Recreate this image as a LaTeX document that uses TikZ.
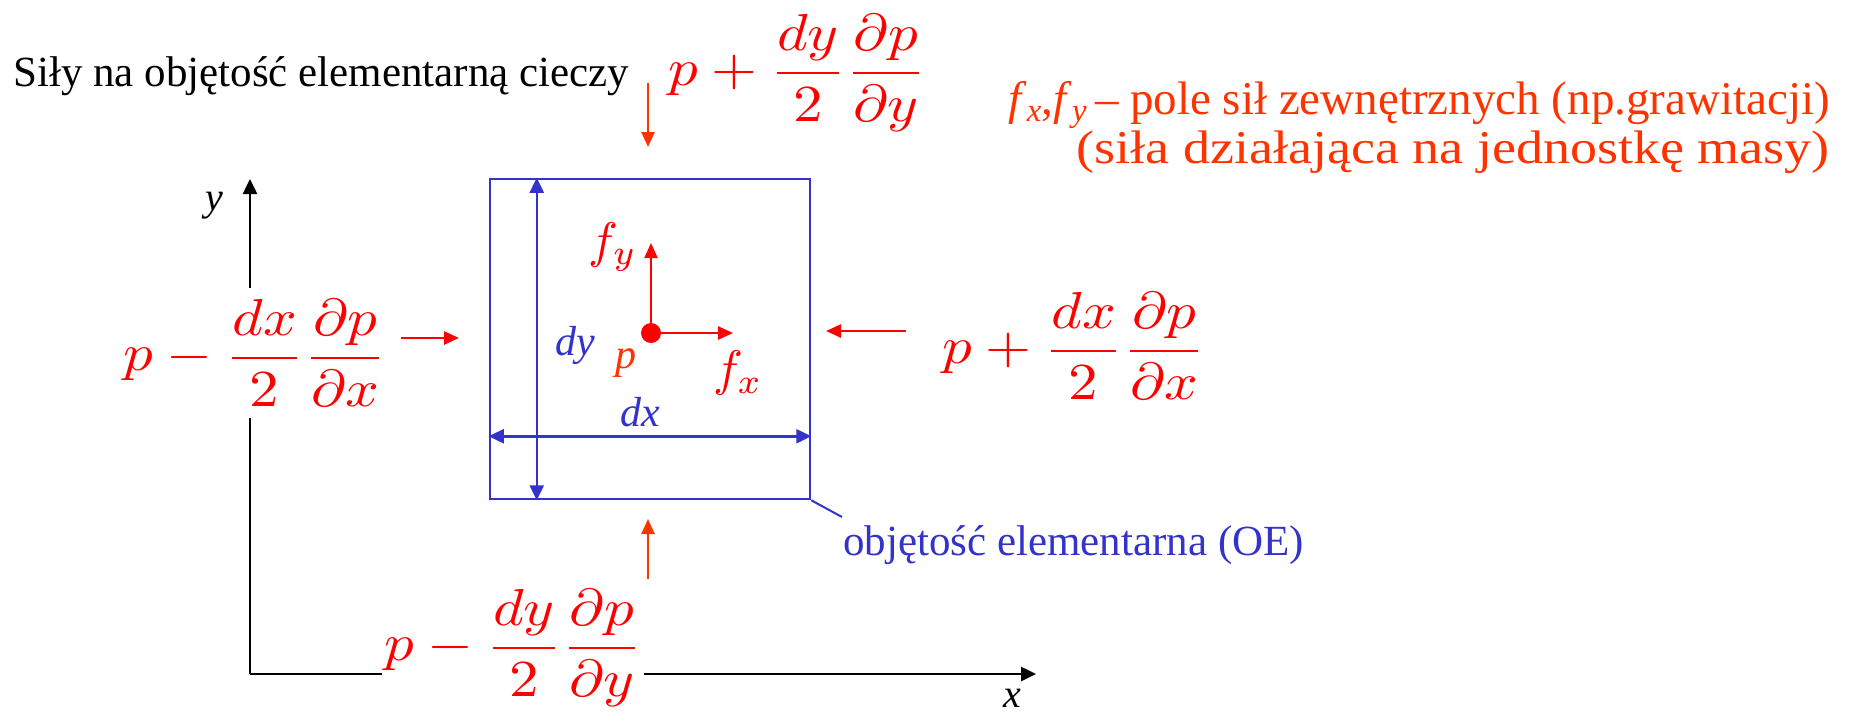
\documentclass[tikz,border=0pt]{standalone}
\usepackage{fontspec}
\setmainfont{Liberation Serif}
\usepackage{graphicx}
\usetikzlibrary{arrows.meta}
\definecolor{fred}{HTML}{FF0000}
\definecolor{forange}{HTML}{FF3300}
\definecolor{oeblue}{HTML}{3333CC}
\newcommand{\frmla}[1]{\scalebox{5.9}[5.2]{$\displaystyle #1$}}
\newcommand{\mlabelx}[1]{\scalebox{5}{$#1$}}
\begin{document}
\begin{tikzpicture}[x=1pt,y=-1pt,
  frm/.style={fill=white, text=fred, inner xsep=2pt, inner ysep=12pt},
  redarr/.style={draw=fred, line width=2.5pt, -{Triangle[length=15pt,width=13pt]}},
  orarr/.style={draw=forange, line width=2.5pt, -{Triangle[length=15pt,width=13pt]}},
  axisarr/.style={draw=black, line width=2.5pt, -{Triangle[length=15pt,width=14pt]}},
  dimarr/.style={draw=oeblue, line width=2.5pt, {Triangle[length=15pt,width=14pt]}-{Triangle[length=15pt,width=14pt]}},
  lbl/.style={inner sep=0pt},
]
\useasboundingbox (0,0) rectangle (1865,715);

% axes
\coordinate (O) at (250,674);
\coordinate (yend) at (250,179);
\coordinate (xend) at (1036,674);
\draw[axisarr] (O) -- (yend);
\draw[axisarr] (O) -- (xend);
\node[lbl, font=\fontsize{40}{48}\selectfont\itshape] (ylab) at (214,206) {y};
\node[lbl, font=\fontsize{40}{48}\selectfont\itshape] (xlab) at (1012,698) {x};

% title
\node[lbl, anchor=west, font=\fontsize{43}{50}\selectfont] (title) at (13,76) {Siły na objętość elementarną cieczy};

% right explanation
\node[lbl, anchor=east, text=forange, font=\fontsize{47}{54}\selectfont] (expl1) at (1830,105)
  {\textit{f}\textsubscript{\textit{x}},\textit{f}\textsubscript{\textit{y}}\,– pole sił zewnętrznych (np.grawitacji)};
\node[lbl, anchor=east, text=forange, font=\fontsize{47}{54}\selectfont] (expl2) at (1830,152)
  {\scalebox{1.15}[1]{(siła działająca na jednostkę masy)}};

% elementary volume
\node[draw=oeblue, line width=2.5pt, minimum width=320pt, minimum height=320pt, inner sep=0pt] (oe) at (650,339) {};
\draw[dimarr] ([xshift=48pt]oe.north west) -- ([xshift=48pt]oe.south west);
\draw[dimarr] ([yshift=64pt]oe.south west) -- ([yshift=64pt]oe.south east);
\node[lbl, text=oeblue, font=\fontsize{42}{50}\selectfont\itshape] (dylab) at (575,345) {dy};
\node[lbl, text=oeblue, font=\fontsize{42}{50}\selectfont\itshape] (dxlab) at (640,412) {dx};

% leader and label
\coordinate (lead) at (842,517);
\draw[draw=oeblue, line width=2pt] (oe.south east) -- (lead);
\node[lbl, anchor=west, text=oeblue, font=\fontsize{43}{50}\selectfont] (oelab) at (843,545) {objętość elementarna (OE)};

% point and body forces
\node[circle, fill=fred, minimum size=20pt, inner sep=0pt] (dot) at (651,333) {};
\coordinate (fxend) at (733,333);
\coordinate (fyend) at (651,243);
\draw[redarr] (dot.center) -- (fxend);
\draw[redarr, line width=2pt] (dot.center) -- (fyend);
\node[lbl, text=fred] (fylab) at (613,247) {\mlabelx{f_y}};
\node[lbl, text=fred] (fxlab) at (738,373) {\mlabelx{f_x}};
\node[lbl, text=forange, font=\fontsize{42}{50}\selectfont\itshape] (plab) at (626,363) {p};

% pressure forces
\node[frm] (ftop) at (797,73) {\frmla{p+\frac{dy}{2}\frac{\partial p}{\partial y}}};
\node[frm] (fleft) at (255,353) {\frmla{p-\frac{dx}{2}\frac{\partial p}{\partial x}}};
\node[frm] (fright) at (1074,346) {\frmla{p+\frac{dx}{2}\frac{\partial p}{\partial x}}};
\node[frm] (fbot) at (513,648) {\frmla{p-\frac{dy}{2}\frac{\partial p}{\partial y}}};

\coordinate (at1) at (648,83);  \coordinate (at2) at (648,147);
\draw[orarr] (at1) -- (at2);
\coordinate (ab1) at (648,579); \coordinate (ab2) at (648,519);
\draw[orarr] (ab1) -- (ab2);
\coordinate (al1) at (401,338); \coordinate (al2) at (459,338);
\draw[redarr] (al1) -- (al2);
\coordinate (ar1) at (906,331); \coordinate (ar2) at (826,331);
\draw[redarr] (ar1) -- (ar2);
\end{tikzpicture}
\end{document}
